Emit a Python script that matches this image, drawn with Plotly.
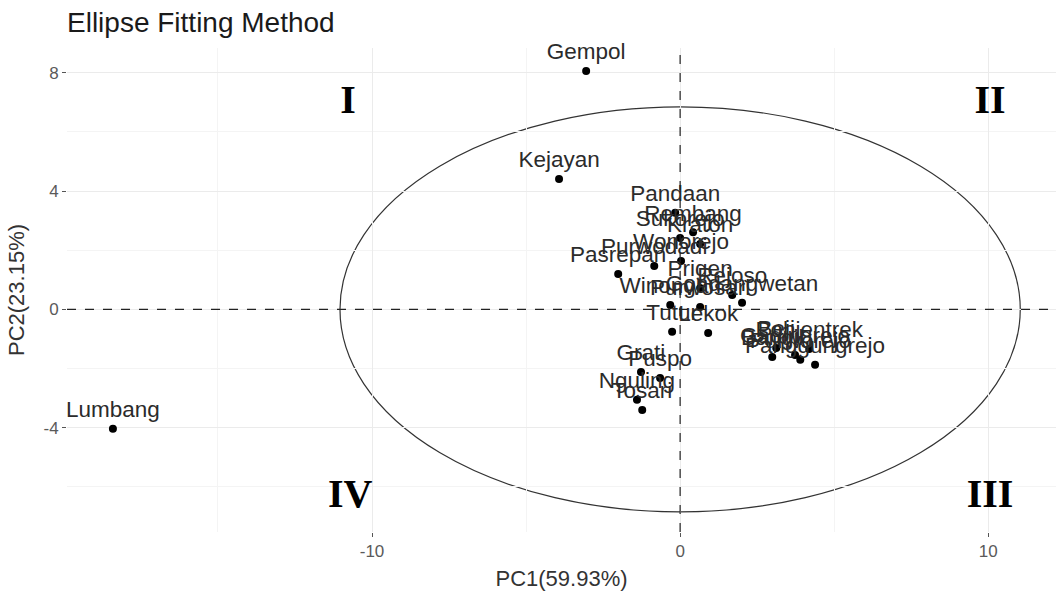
import plotly.graph_objects as go

# --- data -------------------------------------------------------------
names = ["Gempol", "Kejayan", "Lumbang", "Pandaan", "Rembang", "Sukorejo",
         "Kraton", "Wonorejo", "Purwodadi", "Pasrepan", "Prigen", "Rejoso",
         "Gondangwetan", "Winongan", "Purwosari", "Tutur", "Lekok", "Grati",
         "Puspo", "Nguling", "Tosari", "Beji", "Pohjentrek", "Bangil",
         "Gadingrejo", "Purworejo", "Panggungrejo"]
pc1 = [-3.05, -3.93, -18.41, -0.16, 0.42, 0.00,
       0.65, 0.03, -0.84, -2.01, 0.65, 1.69,
       2.01, -0.32, 0.65, -0.26, 0.91, -1.27,
       -0.65, -1.40, -1.23, 3.12, 4.19, 2.99,
       3.73, 3.90, 4.38]
pc2 = [8.06, 4.41, -4.04, 3.27, 2.61, 2.41,
       2.21, 1.64, 1.47, 1.20, 0.72, 0.49,
       0.22, 0.15, 0.08, -0.76, -0.80, -2.12,
       -2.32, -3.06, -3.40, -1.31, -1.34, -1.61,
       -1.54, -1.70, -1.87]

quad_labels = ["I", "II", "III", "IV"]
quad_x = [-10.78, 10.06, 10.06, -10.71]
quad_y = [6.98, 6.98, -6.34, -6.34]

ellipse_center = (0.0, 0.0)
ellipse_a = 11.04   # semi-axis along PC1
ellipse_b = 6.85    # semi-axis along PC2

x_ticks = [-10, 0, 10]
x_ticktext = ["-10", "0", "10"]
y_ticks = [-4, 0, 4, 8]
y_ticktext = ["-4", "0", "4", "8"]

x_range = [-19.9, 12.2]
y_range = [-7.53, 8.84]

# --- figure -----------------------------------------------------------
fig = go.Figure()

fig.add_shape(type="circle", xref="x", yref="y",
              x0=ellipse_center[0] - ellipse_a, x1=ellipse_center[0] + ellipse_a,
              y0=ellipse_center[1] - ellipse_b, y1=ellipse_center[1] + ellipse_b,
              line=dict(color="#333333", width=1.2), layer="below")
fig.add_shape(type="line", xref="x", yref="paper", x0=0, x1=0, y0=0, y1=1,
              line=dict(color="#222222", width=1.2, dash="dash"))
fig.add_shape(type="line", xref="paper", yref="y", x0=0, x1=1, y0=0, y1=0,
              line=dict(color="#222222", width=1.2, dash="dash"))

fig.add_trace(go.Scatter(
    x=pc1, y=pc2, mode="markers+text", text=names,
    textposition="top center",
    textfont=dict(family="Liberation Sans, Arial", size=22.5, color="#2b2b2b"),
    marker=dict(color="black", size=8),
    hoverinfo="text", showlegend=False, cliponaxis=False))

fig.add_trace(go.Scatter(
    x=quad_x, y=quad_y, mode="text", text=quad_labels,
    textposition="middle center",
    textfont=dict(family="Liberation Serif, Times New Roman", size=40,
                  color="black", weight="bold"),
    showlegend=False, hoverinfo="skip"))

axis_common = dict(
    automargin=False,
    showgrid=True, gridcolor="#EBEBEB", gridwidth=1.1,
    zeroline=False, showline=False,
    ticks="outside", ticklen=4, tickcolor="#555555", tickwidth=1,
    tickfont=dict(family="Liberation Sans, Arial", size=17, color="#5a5a5a"),
    title_font=dict(family="Liberation Sans, Arial", size=22, color="#333333"),
)

fig.update_xaxes(range=x_range, tickvals=x_ticks, ticktext=x_ticktext,
                 title_text="PC1(59.93%)", title_standoff=10,
                 minor=dict(dtick=5, tick0=0, showgrid=True, gridcolor="#F4F4F4",
                            gridwidth=1, ticks=""),
                 **axis_common)
fig.update_yaxes(range=y_range, tickvals=y_ticks, ticktext=y_ticktext,
                 title_text="PC2(23.15%)", title_standoff=12,
                 minor=dict(dtick=2, tick0=0, showgrid=True, gridcolor="#F4F4F4",
                            gridwidth=1, ticks=""),
                 **axis_common)

fig.update_layout(
    width=1056, height=593,
    margin=dict(l=67, r=0, t=48, b=61),
    paper_bgcolor="white", plot_bgcolor="white",
    title=dict(text="Ellipse Fitting Method", x=67 / 1056, xanchor="left",
               xref="container", y=1 - 22 / 593, yanchor="middle", yref="container",
               font=dict(family="Liberation Sans, Arial", size=28, color="#1a1a1a")),
)

fig.write_html("out.html",
               config={"displayModeBar": False},
               post_script="document.body.style.margin='0';document.body.style.padding='0';")
